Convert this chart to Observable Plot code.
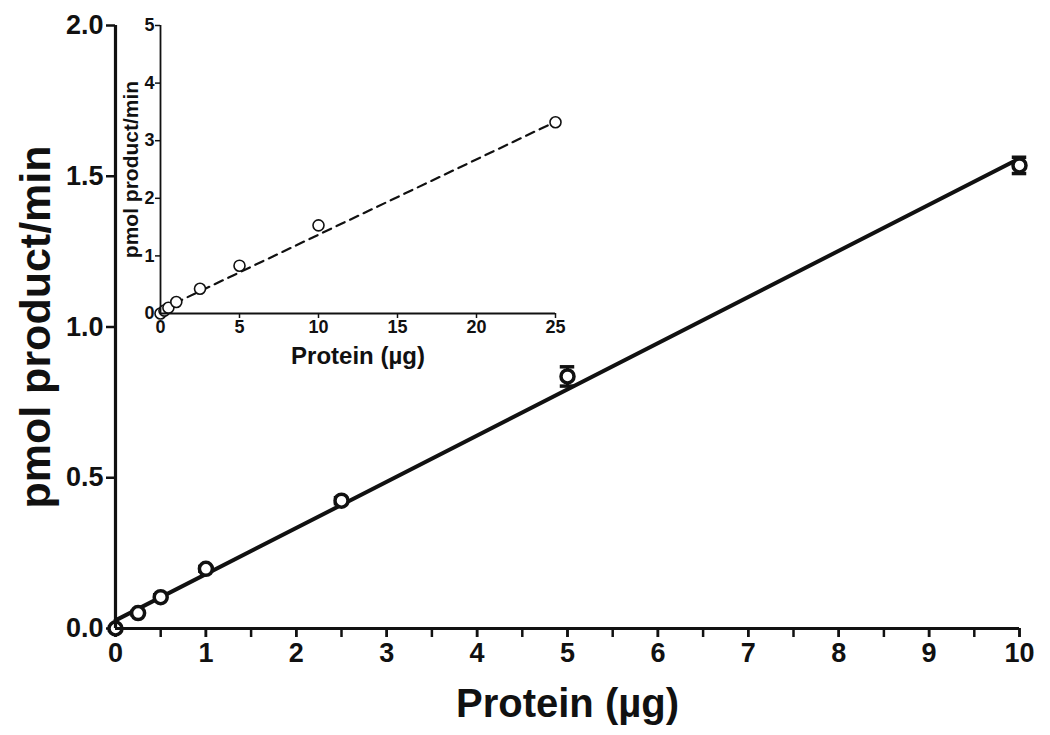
<!DOCTYPE html>
<html>
<head>
<meta charset="utf-8">
<script src="https://cdn.jsdelivr.net/npm/d3@7"></script>
<script src="https://cdn.jsdelivr.net/npm/@observablehq/plot@0.6"></script>
<style>
  body { margin: 0; background: #fff; }
  #wrap { position: relative; width: 1050px; height: 735px; }
  #wrap svg { font-family: "Liberation Sans", Arial, sans-serif; font-weight: bold; }
  #inset { position: absolute; left: 0; top: 0; }
</style>
</head>
<body>
<div id="wrap"><div id="main"></div><div id="inset"></div></div>
<script>
// ---- Main chart data ----
const protein = [0, 0.25, 0.5, 1, 2.5, 5, 10];
const activity = [0.0, 0.051, 0.104, 0.198, 0.424, 0.836, 1.536];
const activityErr = [0.005, 0.006, 0.008, 0.008, 0.01, 0.032, 0.027];
const fitX = [0, 10];
const fitY = [0.027, 1.559];
const xTickLabels = [0, 1, 2, 3, 4, 5, 6, 7, 8, 9, 10];
const xTicksAll = [0, 0.5, 1, 1.5, 2, 2.5, 3, 3.5, 4, 4.5, 5, 5.5, 6, 6.5, 7, 7.5, 8, 8.5, 9, 9.5, 10];
const yTicks = [0, 0.5, 1.0, 1.5, 2.0];

// ---- Inset data ----
const insetProtein = [0, 0.25, 0.5, 1, 2.5, 5, 10, 25];
const insetActivity = [0.0, 0.05, 0.1, 0.2, 0.43, 0.83, 1.53, 3.32];
const insetFitX = [0, 25];
const insetFitY = [0.06, 3.33];
const insetXTicks = [0, 5, 10, 15, 20, 25];
const insetYTicks = [0, 1, 2, 3, 4, 5];

const pts = protein.map((x, i) => ({x, y: activity[i], e: activityErr[i]}));
const fit = fitX.map((x, i) => ({x, y: fitY[i]}));
const ipts = insetProtein.map((x, i) => ({x, y: insetActivity[i]}));
const ifit = insetFitX.map((x, i) => ({x, y: insetFitY[i]}));

const main = Plot.plot({
  width: 1050,
  height: 735,
  marginLeft: 115,
  marginRight: 31,
  marginTop: 25,
  marginBottom: 107,
  x: {domain: [0, 10]},
  y: {domain: [0, 2]},
  style: {fontFamily: "Liberation Sans, Arial, sans-serif", fontWeight: "bold", color: "#111"},
  marks: [
    Plot.axisX({ticks: xTicksAll, tickFormat: () => "", tickSize: 9, strokeWidth: 2.5, label: null}),
    Plot.axisX({ticks: xTickLabels, tickFormat: d => String(d), tickSize: 9, strokeWidth: 2.5, tickPadding: 5, fontSize: 27, label: "Protein (µg)", labelAnchor: "center", labelArrow: "none", labelOffset: 88}),
    Plot.axisY({ticks: yTicks, tickFormat: d3.format(".1f"), tickSize: 9, strokeWidth: 2.5, tickPadding: 3, fontSize: 27, label: "pmol product/min", labelAnchor: "center", labelArrow: "none", labelOffset: 96}),
    Plot.line(fit, {x: "x", y: "y", stroke: "#111", strokeWidth: 4}),
    Plot.ruleX(pts, {x: "x", y1: d => d.y - d.e, y2: d => d.y + d.e, stroke: "#111", strokeWidth: 3}),
    Plot.ruleY(pts, {y: d => d.y + d.e, x1: d => d.x - 0.08, x2: d => d.x + 0.08, stroke: "#111", strokeWidth: 3.5}),
    Plot.ruleY(pts, {y: d => d.y - d.e, x1: d => d.x - 0.08, x2: d => d.x + 0.08, stroke: "#111", strokeWidth: 3.5}),
    Plot.dot(pts, {x: "x", y: "y", r: 6.5, stroke: "#111", strokeWidth: 3.5, fill: "white"}),
    Plot.ruleX([0], {y1: 0, y2: 2, stroke: "#111", strokeWidth: 3.2}),
    Plot.ruleY([0], {x1: 0, x2: 10, stroke: "#111", strokeWidth: 3.2})
  ]
});
document.getElementById("main").append(main);

const inset = Plot.plot({
  width: 600,
  height: 380,
  marginLeft: 160,
  marginRight: 45,
  marginTop: 25,
  marginBottom: 67,
  x: {domain: [0, 25]},
  y: {domain: [0, 5]},
  style: {fontFamily: "Liberation Sans, Arial, sans-serif", fontWeight: "bold", color: "#111", background: "transparent"},
  marks: [
    Plot.axisX({ticks: insetXTicks, tickFormat: d => String(d), tickSize: 5, strokeWidth: 1.5, tickPadding: 2, fontSize: 18, label: "Protein (µg)", labelAnchor: "center", labelArrow: "none", labelOffset: 50}),
    Plot.axisY({ticks: insetYTicks, tickFormat: d => String(d), tickSize: 5, strokeWidth: 1.5, tickPadding: 1, fontSize: 18, label: "pmol product/min", labelAnchor: "center", labelArrow: "none", labelOffset: 37}),
    Plot.line(ifit, {x: "x", y: "y", stroke: "#111", strokeWidth: 2.2, strokeDasharray: "9,6"}),
    Plot.dot(ipts, {x: "x", y: "y", r: 5.5, stroke: "#111", strokeWidth: 1.6, fill: "white"}),
    Plot.ruleX([0], {y1: 0, y2: 5, stroke: "#111", strokeWidth: 1.8}),
    Plot.ruleY([0], {x1: 0, x2: 25, stroke: "#111", strokeWidth: 1.8})
  ]
});
document.getElementById("inset").append(inset);

// axis title sizes and colour
function setFont(svg, sel, size) {
  svg.querySelectorAll(sel).forEach(g => {
    g.setAttribute("font-size", size);
    g.setAttribute("fill", "#111");
    g.querySelectorAll("text").forEach(t => t.setAttribute("font-size", size));
  });
}
setFont(main, "g[aria-label='x-axis label']", 40);
setFont(main, "g[aria-label='y-axis label']", 43);
setFont(inset, "g[aria-label='x-axis label']", 24);
setFont(inset, "g[aria-label='y-axis label']", 21);
</script>
</body>
</html>
